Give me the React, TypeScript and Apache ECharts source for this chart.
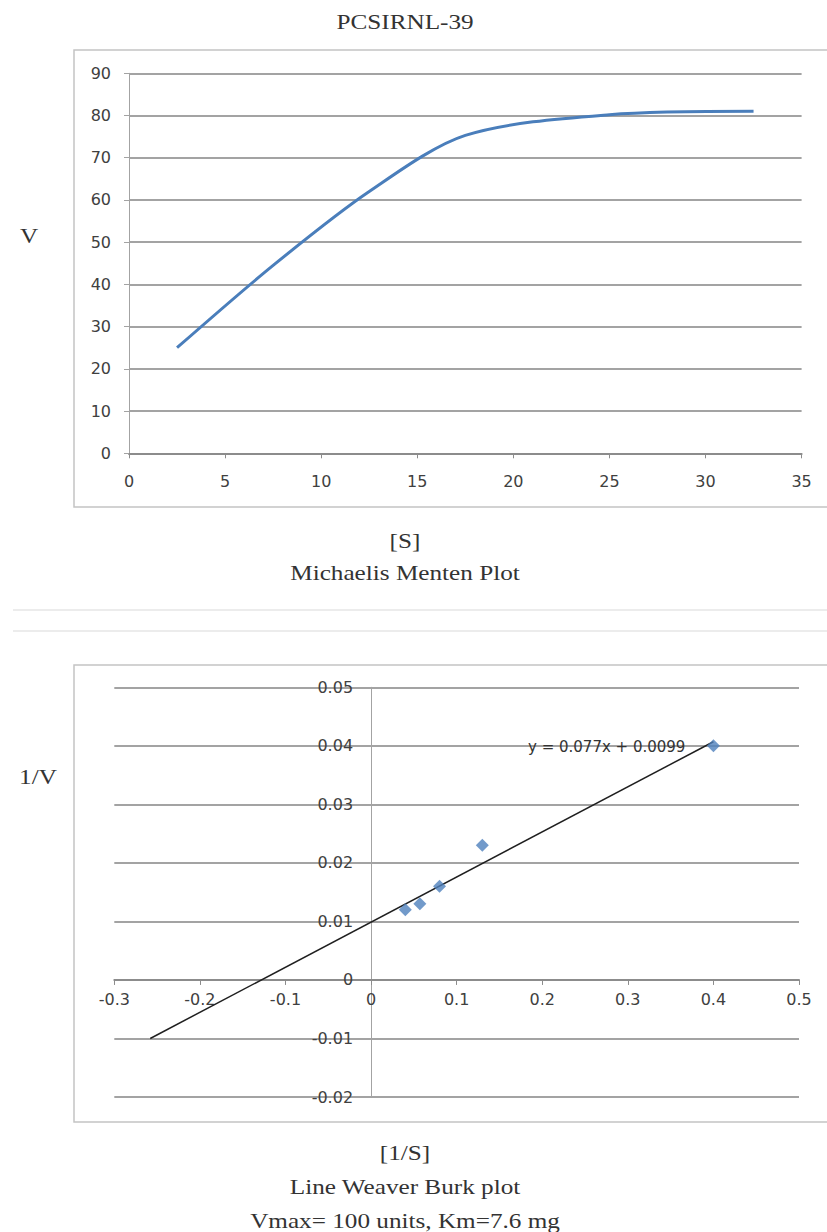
import React, { useEffect, useRef } from "react";
import * as echarts from "echarts";

// Michaelis–Menten data
const substrate = [2.5, 7.5, 12.5, 17.5, 25, 32.5];
const velocity = [25, 44.5, 62, 75.3, 80.2, 81];

// Lineweaver–Burk data
const invS = [0.04, 0.057, 0.08, 0.13, 0.4];
const invV = [0.012, 0.013, 0.016, 0.023, 0.04];

// Trendline y = 0.077x + 0.0099 (end points)
const trendX = [-0.258, 0.4];
const trendY = [-0.01, 0.0407];
const trendLabel = "y = 0.077x + 0.0099";

// Axis ranges
const mmX = { min: 0, max: 35, interval: 5 };
const mmY = { min: 0, max: 90, interval: 10 };
const lbX = { min: -0.3, max: 0.5, interval: 0.1 };
const lbY = { min: -0.02, max: 0.05, interval: 0.01 };

const SERIF = "Liberation Serif, Times New Roman, serif";
const SANS = "DejaVu Sans, sans-serif";
const LABEL_COLOR = "#404040";
const GRID_COLOR = "#a3a3a3";
const AXIS_COLOR = "#8c8c8c";

const grid0 = { left: 129, top: 73.3, width: 672.6, height: 380 };
const grid1 = { left: 114.3, top: 687.3, width: 684.7, height: 409.7 };

export default function App() {
  const ref = useRef<HTMLDivElement>(null);

  useEffect(() => {
    document.body.style.margin = "0";
    if (!ref.current) return;
    const chart = echarts.init(ref.current, null, { renderer: "svg" });

    // axes of the Lineweaver–Burk plot cross at the origin
    const lbYAxisOffset = -((0 - lbX.min) / (lbX.max - lbX.min)) * grid1.width;
    const lbXAxisOffset = -((0 - lbY.min) / (lbY.max - lbY.min)) * grid1.height;

    const serifText = (text: string, x: number, y: number) => ({
      type: "text",
      x,
      y,
      scaleX: 1.2,
      style: {
        text,
        font: `21px ${SERIF}`,
        fill: "#333",
        textAlign: "center",
        textVerticalAlign: "middle",
      },
    });

    const axisLabel = (margin: number) => ({
      color: LABEL_COLOR,
      fontFamily: SANS,
      fontSize: 16,
      margin,
    });

    chart.setOption({
      animation: false,
      backgroundColor: "#fff",
      grid: [grid0, grid1],
      xAxis: [
        {
          gridIndex: 0,
          type: "value",
          ...mmX,
          axisLine: { show: true, lineStyle: { color: AXIS_COLOR, width: 2 } },
          axisTick: { show: true, length: 5, lineStyle: { color: AXIS_COLOR } },
          axisLabel: axisLabel(20),
          splitLine: { show: false },
        },
        {
          gridIndex: 1,
          type: "value",
          ...lbX,
          position: "bottom",
          offset: lbXAxisOffset,
          axisLine: { show: true, onZero: false, lineStyle: { color: AXIS_COLOR, width: 2 } },
          axisTick: { show: true, length: 5, lineStyle: { color: AXIS_COLOR } },
          axisLabel: axisLabel(12),
          splitLine: { show: false },
        },
      ],
      yAxis: [
        {
          gridIndex: 0,
          type: "value",
          ...mmY,
          axisLine: { show: true, lineStyle: { color: GRID_COLOR, width: 1 } },
          axisTick: { show: true, length: 5, lineStyle: { color: GRID_COLOR } },
          axisLabel: axisLabel(18),
          splitLine: { show: true, lineStyle: { color: GRID_COLOR, width: 2 } },
        },
        {
          gridIndex: 1,
          type: "value",
          ...lbY,
          position: "left",
          offset: lbYAxisOffset,
          axisLine: { show: true, onZero: false, lineStyle: { color: GRID_COLOR, width: 1 } },
          axisTick: { show: false },
          axisLabel: axisLabel(18),
          splitLine: { show: true, lineStyle: { color: GRID_COLOR, width: 2 } },
        },
      ],
      series: [
        {
          type: "line",
          xAxisIndex: 0,
          yAxisIndex: 0,
          data: substrate.map((s, i) => [s, velocity[i]]),
          smooth: 0.3,
          showSymbol: false,
          symbol: "none",
          lineStyle: { color: "#4a7ebb", width: 3 },
          z: 5,
        },
        {
          type: "line",
          xAxisIndex: 1,
          yAxisIndex: 1,
          data: trendX.map((x, i) => [x, trendY[i]]),
          symbol: "none",
          lineStyle: { color: "#1f1f1f", width: 1.5 },
          z: 4,
        },
        {
          type: "scatter",
          xAxisIndex: 1,
          yAxisIndex: 1,
          data: invS.map((x, i) => [x, invV[i]]),
          symbol: "diamond",
          symbolSize: [13, 13],
          itemStyle: { color: "#4f81bd" },
          z: 6,
        },
      ],
      graphic: [
        {
          type: "rect",
          shape: { x: 74, y: 50, width: 800, height: 457 },
          style: { fill: "none", stroke: "#c4c4c4", lineWidth: 1.5 },
          z: -1,
        },
        {
          type: "rect",
          shape: { x: 74, y: 665, width: 800, height: 457 },
          style: { fill: "none", stroke: "#c4c4c4", lineWidth: 1.5 },
          z: -1,
        },
        {
          type: "line",
          shape: { x1: 13, y1: 610, x2: 827, y2: 610 },
          style: { stroke: "#ececec", lineWidth: 2 },
        },
        {
          type: "line",
          shape: { x1: 13, y1: 631, x2: 827, y2: 631 },
          style: { stroke: "#ececec", lineWidth: 2 },
        },
        serifText("PCSIRNL-39", 405, 22),
        serifText("V", 29, 236),
        serifText("[S]", 405, 541),
        serifText("Michaelis Menten Plot", 405, 573),
        serifText("1/V", 38, 777),
        serifText("[1/S]", 405, 1153),
        serifText("Line Weaver Burk plot", 405, 1187),
        serifText("Vmax= 100 units, Km=7.6 mg", 405, 1221),
        {
          type: "text",
          x: 528,
          y: 747,
          style: {
            text: trendLabel,
            font: `15px ${SANS}`,
            fill: "#333",
            textAlign: "left",
            textVerticalAlign: "middle",
          },
          z: 10,
        },
      ],
    });

    return () => chart.dispose();
  }, []);

  return <div ref={ref} style={{ width: 827, height: 1232 }} />;
}
